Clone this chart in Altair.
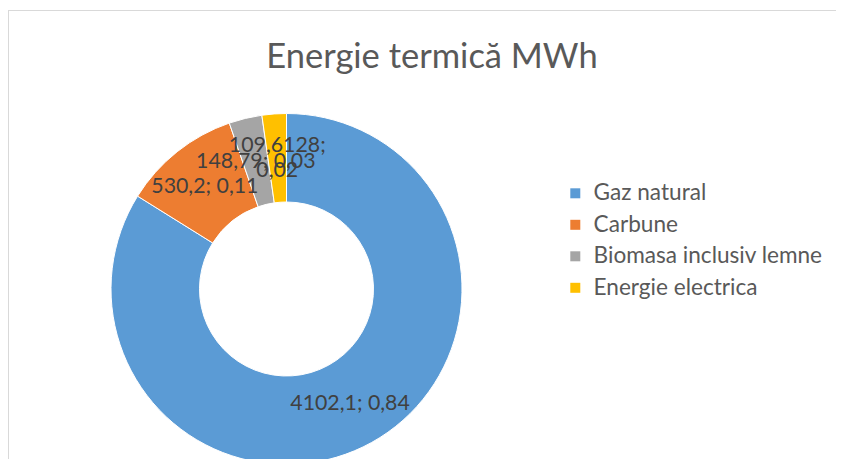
import altair as alt
import pandas as pd

title_text = "Energie termică MWh"
categories = ["Gaz natural", "Carbune", "Biomasa inclusiv lemne", "Energie electrica"]
values = [4102.1, 530.2, 148.79, 109.6128]
labels = ["4102,1; 0,84", "530,2; 0,11", "148,79; 0,03", "109,6128;\n0,02"]
colors = ["#5B9BD5", "#ED7D31", "#A5A5A5", "#FFC000"]

df = pd.DataFrame({
    "cat": categories,
    "value": values,
    "label": labels,
    "idx": list(range(len(categories))),
})

W, H = 828, 451
cx, cy = 278.5, 281

base = alt.Chart(df).encode(
    theta=alt.Theta("value:Q", stack=True),
    order=alt.Order("idx:Q"),
    x=alt.value(cx),
    y=alt.value(cy),
)

arcs = base.mark_arc(outerRadius=175.5, innerRadius=87, stroke="white", strokeWidth=1).encode(
    color=alt.Color(
        "cat:N",
        scale=alt.Scale(domain=categories, range=colors),
        legend=alt.Legend(
            title=None,
            orient="none",
            legendX=556,
            legendY=174,
            symbolType="square",
            symbolSize=100,
            symbolStrokeWidth=0,
            labelFont="Lato",
            labelFontSize=22.6,
            labelColor="#595959",
            labelOffset=7,
            rowPadding=8.5,
            padding=0,
            labelLimit=400,
        ),
    )
)

single = "indexof(datum.label, '\\n') < 0"

text_single = base.mark_text(
    radius=131, font="Lato", fontSize=21.3, color="#404040"
).encode(text=alt.condition(single, alt.Text("label:N"), alt.value("")))

text_multi = base.mark_text(
    radius=131, font="Lato", fontSize=21.3, color="#404040",
    lineBreak="\n", lineHeight=25, dy=-12,
).encode(text=alt.condition(single, alt.value(""), alt.Text("label:N")))

title_df = pd.DataFrame({"t": [title_text]})
title = alt.Chart(title_df).mark_text(
    font="Lato", fontSize=34.5, color="#595959", baseline="middle"
).encode(text="t:N", x=alt.value(424), y=alt.value(50))

# chart-area frame: left and top edges (right and bottom run off the picture)
frame_left = alt.Chart(title_df).mark_rule(color="#d9d9d9", strokeWidth=1).encode(
    x=alt.value(0.5), y=alt.value(2.5), y2=alt.value(H)
)
frame_top = alt.Chart(title_df).mark_rule(color="#d9d9d9", strokeWidth=1).encode(
    x=alt.value(0), x2=alt.value(W), y=alt.value(2.5)
)

chart = alt.layer(frame_left, frame_top, arcs, text_single, text_multi, title).properties(
    width=W,
    height=H,
    autosize=alt.AutoSizeParams(type="none"),
    padding={"left": 0, "top": 0, "right": 0, "bottom": 0},
    background="white",
).configure_view(stroke=None)

chart.save("out.html", embed_options={"renderer": "svg", "actions": False})
